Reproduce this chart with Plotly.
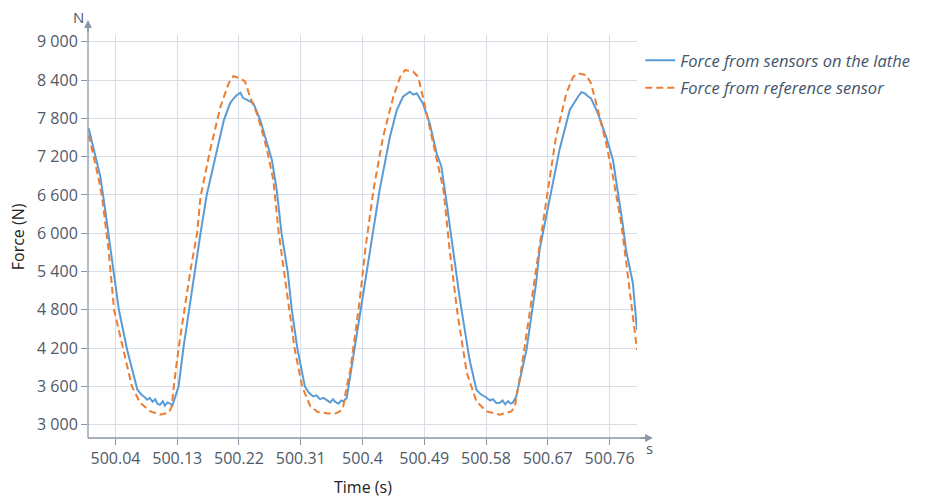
import plotly.graph_objects as go

# ---- data ----
time_lathe = [500.001, 500.006, 500.011, 500.018, 500.023, 500.033, 500.040, 500.045, 500.057, 500.072,
              500.078, 500.082, 500.086, 500.090, 500.094, 500.098, 500.101, 500.105, 500.109, 500.112,
              500.116, 500.120, 500.123, 500.127, 500.132, 500.139, 500.147, 500.156, 500.164, 500.173,
              500.188, 500.198, 500.207, 500.212, 500.217, 500.222, 500.226, 500.232, 500.237, 500.241,
              500.251, 500.261, 500.268, 500.275, 500.282, 500.291, 500.297, 500.305, 500.316, 500.322,
              500.328, 500.333, 500.338, 500.343, 500.348, 500.353, 500.357, 500.360, 500.365, 500.369,
              500.372, 500.377, 500.382, 500.396, 500.411, 500.425, 500.440, 500.450, 500.459, 500.465,
              500.469, 500.474, 500.479, 500.488, 500.498, 500.508, 500.515, 500.522, 500.532, 500.542,
              500.556, 500.566, 500.572, 500.577, 500.581, 500.586, 500.590, 500.595, 500.600, 500.604,
              500.608, 500.612, 500.616, 500.619, 500.624, 500.639, 500.653, 500.658, 500.673, 500.687,
              500.702, 500.709, 500.714, 500.719, 500.724, 500.728, 500.733, 500.743, 500.755, 500.765,
              500.772, 500.779, 500.784, 500.794, 500.800]
force_lathe = [7643, 7420, 7230, 6886, 6521, 5739, 5113, 4800, 4174, 3548,
               3470, 3440, 3391, 3420, 3360, 3400, 3330, 3313, 3370, 3300,
               3350, 3329, 3300, 3443, 3600, 4200, 4800, 5400, 6000, 6600,
               7304, 7773, 8035, 8110, 8165, 8200, 8120, 8086, 8060, 8035,
               7773, 7408, 7147, 6678, 6000, 5400, 4800, 4200, 3600, 3500,
               3443, 3460, 3400, 3420, 3390, 3350, 3400, 3360, 3330, 3380,
               3365, 3420, 3756, 4695, 5700, 6678, 7512, 7930, 8138, 8180,
               8216, 8170, 8191, 8034, 7720, 7252, 7043, 6521, 5739, 4956,
               4017, 3548, 3480, 3450, 3423, 3380, 3400, 3340, 3344, 3380,
               3320, 3370, 3330, 3344, 3443, 4174, 5222, 5739, 6521, 7304,
               7930, 8060, 8138, 8210, 8191, 8150, 8113, 7878, 7512, 7147,
               6678, 6157, 5739, 5218, 4487]

time_reference = [500.001, 500.008, 500.016, 500.021, 500.030, 500.038, 500.052, 500.064, 500.076, 500.091,
                  500.105, 500.118, 500.122, 500.125, 500.132, 500.140, 500.149, 500.159, 500.164, 500.178,
                  500.193, 500.205, 500.212, 500.216, 500.222, 500.229, 500.236, 500.246, 500.256, 500.263,
                  500.270, 500.278, 500.286, 500.293, 500.301, 500.312, 500.324, 500.335, 500.348, 500.360,
                  500.367, 500.372, 500.377, 500.382, 500.396, 500.404, 500.416, 500.430, 500.445, 500.455,
                  500.462, 500.474, 500.481, 500.488, 500.498, 500.508, 500.518, 500.527, 500.539, 500.552,
                  500.566, 500.581, 500.600, 500.617, 500.622, 500.632, 500.644, 500.653, 500.668, 500.682,
                  500.697, 500.707, 500.714, 500.726, 500.733, 500.743, 500.755, 500.765, 500.777, 500.782,
                  500.793, 500.800]
force_reference = [7539, 7199, 6834, 6521, 5739, 4800, 4174, 3599, 3344, 3208,
                   3157, 3188, 3286, 3600, 4200, 4800, 5400, 6000, 6573, 7304,
                   7982, 8348, 8462, 8446, 8426, 8373, 8138, 7878, 7512, 7199,
                   6834, 6000, 5400, 4800, 4200, 3600, 3286, 3200, 3180, 3175,
                   3208, 3286, 3600, 3840, 4950, 5739, 6678, 7512, 8138, 8451,
                   8556, 8530, 8451, 8138, 7650, 7199, 6678, 5739, 4695, 3814,
                   3365, 3208, 3157, 3208, 3286, 3912, 4800, 5478, 6521, 7512,
                   8191, 8451, 8504, 8478, 8348, 7930, 7409, 6886, 6157, 5739,
                   4800, 4174]

x_tick_values = [500.04, 500.13, 500.22, 500.31, 500.40, 500.49, 500.58, 500.67, 500.76]
x_tick_labels = ["500.04", "500.13", "500.22", "500.31", "500.4", "500.49", "500.58", "500.67", "500.76"]
y_tick_values = [3000, 3600, 4200, 4800, 5400, 6000, 6600, 7200, 7800, 8400, 9000]
y_tick_labels = ["3 000", "3 600", "4 200", "4 800", "5 400", "6 000", "6 600", "7 200", "7 800", "8 400", "9 000"]

series_names = ["Force from sensors on the lathe", "Force from reference sensor"]

# ---- style ----
FONT = "Open Sans"
AXIS_COLOR = "#8a95a5"
GRID_COLOR = "#d8dee8"
TICK_COLOR = "#4f5968"
BLUE = "#5b9bd5"
ORANGE = "#ed7d31"

fig = go.Figure()
fig.add_trace(go.Scatter(x=time_lathe, y=force_lathe, mode="lines", name=series_names[0],
                         legendgroup="lathe", line=dict(color=BLUE, width=2)))
fig.add_trace(go.Scatter(x=time_reference, y=force_reference, mode="lines", name=series_names[1],
                         legendgroup="reference", line=dict(color=ORANGE, width=2, dash="7px,4px")))

fig.update_layout(
    width=928, height=498,
    margin=dict(l=88, r=291, t=35, b=60),
    paper_bgcolor="white", plot_bgcolor="white",
    font=dict(family=FONT, size=16, color=TICK_COLOR),
    showlegend=True,
    legend=dict(x=1.006, y=0.98, xanchor="left", yanchor="top",
                font=dict(family=FONT, size=16.5, color="#44546a", style="italic"),
                bgcolor="rgba(0,0,0,0)", tracegroupgap=3, borderwidth=0),
    xaxis=dict(range=[500.0, 500.8], tickmode="array", tickvals=x_tick_values, ticktext=x_tick_labels,
               showgrid=True, gridcolor=GRID_COLOR, gridwidth=1, zeroline=False,
               showline=False, ticks="outside", ticklen=6, tickcolor=AXIS_COLOR,
               tickfont=dict(family=FONT, size=16, color=TICK_COLOR)),
    yaxis=dict(range=[2792, 9105], tickmode="array", tickvals=y_tick_values, ticktext=y_tick_labels,
               showgrid=True, gridcolor=GRID_COLOR, gridwidth=1, zeroline=False,
               showline=False, ticks="outside", ticklen=6, tickcolor=AXIS_COLOR,
               tickfont=dict(family=FONT, size=16, color=TICK_COLOR)),
)

# axis lines with arrows, extending beyond the plotting area
fig.add_shape(type="line", xref="paper", yref="paper", x0=0, x1=1.02, y0=0, y1=0,
              line=dict(color=AXIS_COLOR, width=1.3))
fig.add_shape(type="line", xref="paper", yref="paper", x0=0, x1=0, y0=0, y1=1.03,
              line=dict(color=AXIS_COLOR, width=1.3))
fig.add_annotation(xref="paper", yref="paper", x=1.029, y=0, ax=-14, ay=0, text="",
                   showarrow=True, arrowhead=2, arrowsize=1.2, arrowwidth=1.3, arrowcolor=AXIS_COLOR,
                   standoff=0)
fig.add_annotation(xref="paper", yref="paper", x=0, y=1.037, ax=0, ay=14, text="",
                   showarrow=True, arrowhead=2, arrowsize=1.2, arrowwidth=1.3, arrowcolor=AXIS_COLOR,
                   standoff=0)

# unit labels and axis titles
fig.add_annotation(xref="paper", yref="paper", x=-0.018, y=1.045, text="N", showarrow=False,
                   font=dict(family=FONT, size=15, color=TICK_COLOR), xanchor="center", yanchor="middle")
fig.add_annotation(xref="paper", yref="paper", x=1.022, y=-0.025, text="s", showarrow=False,
                   font=dict(family=FONT, size=15, color=TICK_COLOR), xanchor="center", yanchor="middle")
fig.add_annotation(xref="paper", yref="paper", x=0.5, y=-0.122, text="Time (s)", showarrow=False,
                   font=dict(family=FONT, size=16, color="#222222"), xanchor="center", yanchor="middle")
fig.add_annotation(xref="paper", yref="paper", x=-0.128, y=0.5, text="Force (N)", showarrow=False,
                   textangle=-90, font=dict(family=FONT, size=16, color="#222222"),
                   xanchor="center", yanchor="middle")

fig.write_html("out.html", config={"displayModeBar": False},
               post_script="document.body.style.margin='0';")
